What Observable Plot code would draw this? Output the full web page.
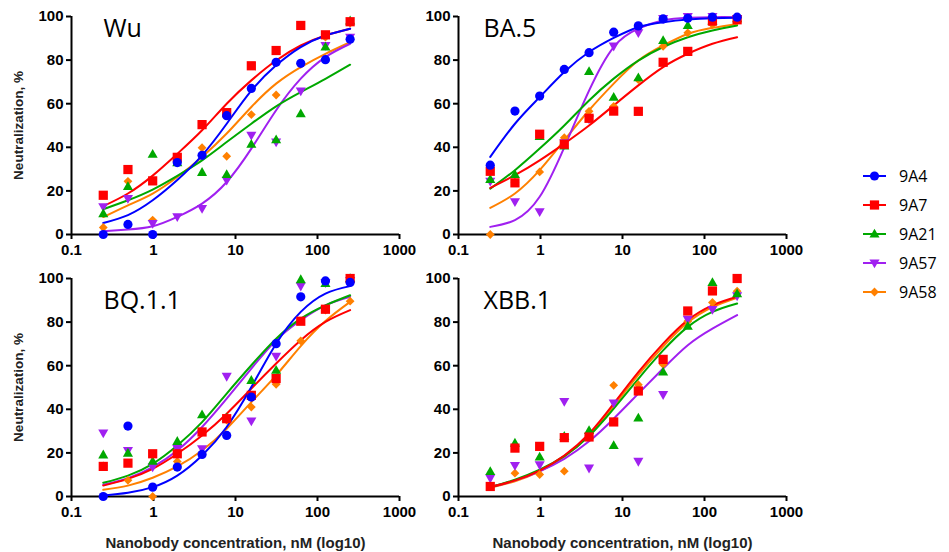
<!DOCTYPE html>
<html>
<head>
<meta charset="utf-8">
<script src="https://cdn.jsdelivr.net/npm/d3@7"></script>
<script src="https://cdn.jsdelivr.net/npm/@observablehq/plot@0.6"></script>
<style>
  body { margin: 0; background: #fff; }
  #chart { position: relative; width: 949px; height: 552px; background: #fff; font-family: "Liberation Sans", Arial, sans-serif; }
  .panel { position: absolute; }
  .panel g[aria-label="y-axis label"] { font-size: 13.5px; fill: #222; }
  .panel g[aria-label="x-axis label"] { font-size: 15px; fill: #222; }
  #legend { position: absolute; left: 855px; top: 160px; }
</style>
</head>
<body>
<div id="chart"></div>
<script>
// ---------- data ----------
const series = ["9A4", "9A7", "9A21", "9A57", "9A58"];
const colors = ["#0000ff", "#ff0000", "#00a800", "#a020f0", "#ff8000"];
const conc = [0.244, 0.488, 0.977, 1.95, 3.91, 7.81, 15.6, 31.3, 62.5, 125, 250];
const xTicks = [0.1, 1, 10, 100, 1000];
const xTickLabels = ["0.1", "1", "10", "100", "1000"];
const yTicks = [0, 20, 40, 60, 80, 100];
const panelNames = ["Wu", "BA.5", "BQ.1.1", "XBB.1"];

// measured points (rows follow `series`)
const wuPts = [
  [0, 4.6, 0, 33, 36.3, 54.5, 67, 79, 78.5, 80.2, 89.6],
  [18, 29.8, 24.6, 35.4, 50.4, 55.9, 77.4, 84.4, 95.9, 91.6, 97.6],
  [9.6, 22, 36.8, 33, 28.5, 27.5, 41.4, 43.5, 55.4, 86, 98],
  [12.7, 16.5, 5, 8.1, 11.9, 24.9, 45.5, 42.4, 65.8, 86.7, 90.5],
  [3.2, 24.4, 6.6, 33, 39.8, 35.9, 55, 64, 78, 90.5, 97]
];
const ba5Pts = [
  [31.8, 56.6, 63.5, 75.7, 83.4, 92.8, 95.7, 98.9, 99.2, 99.7, 99.7],
  [29, 23.7, 46, 41.4, 53.3, 56.6, 56.5, 79, 84, 97.9, 98.5],
  [25.3, 27.5, 45, 40.6, 74.8, 63, 71.9, 89, 95.9, 98, 99],
  [24.4, 15, 10.4, 42, 53, 86.4, 92.5, 99, 100, 100, 99],
  [0, 24, 28.7, 44.4, 56.5, 58.8, 71, 86.3, 92.5, 96.3, 98]
];
const bq11Pts = [
  [0, 32.3, 4.3, 13.5, 19.3, 28, 45.6, 70.1, 91.6, 98.9, 98.2],
  [13.8, 15.3, 19.6, 19.6, 29.6, 35.7, 46.4, 54.1, 80.4, 85.9, 100],
  [19.1, 19.9, 16.2, 25.3, 37.5, 36, 53.3, 57.9, 99.5, 97.7, 100],
  [29.1, 21.1, 13.5, 22, 21.9, 55.1, 34.6, 64.3, 96.5, 98, 99],
  [14, 7.4, 0, 16.1, 20, 35, 41, 51.5, 71.4, 85.5, 89.6]
];
const xbb1Pts = [
  null,
  [4.6, 22.2, 23, 27, 27.3, 34.2, 48.4, 62.9, 85.1, 94.3, 100],
  [11.5, 24.5, 18.1, 27.6, 30.3, 23.4, 36, 57.1, 78.1, 98.2, 93],
  [8.4, 14.2, 14.5, 43.6, 13, 42.9, 16.1, 46.7, 81.3, 85.8, 92],
  [5, 10.7, 10.1, 11.6, 28, 51, 51.3, 60.6, 80.4, 89, 94.2]
];

// fitted curves at each concentration
const wuFit = [
  [5.3, 8.9, 15.7, 25, 36.3, 50.8, 66, 77.6, 86, 91.3, 94.4],
  [13, 18.8, 27, 37, 47.8, 60, 70.7, 79.8, 86.7, 91.3, 94.4],
  [11.6, 15.7, 20.6, 26.9, 34, 42.4, 50.8, 58.8, 65.3, 71.4, 77.9],
  [1.5, 2.3, 3.8, 8.1, 14.2, 24.1, 39.4, 57, 71.5, 81.4, 87.5],
  [8, 13.4, 18.8, 26.4, 35.6, 46.3, 58.5, 69.2, 76.8, 82.9, 88.2]
];
const ba5Fit = [
  [35.6, 50.8, 63, 74.5, 83.7, 90.2, 95.1, 97.4, 98.6, 99.2, 99.4],
  [21.4, 27.2, 34, 41.7, 50, 59.2, 68.4, 76.8, 82.9, 87.5, 90.5],
  [21, 29.5, 39.4, 50, 61.5, 71.5, 79.8, 86, 90.5, 93.6, 95.9],
  [3.5, 6.6, 17.3, 40, 66, 86, 94.4, 98.2, 99.4, 99.7, 99.7],
  [12.2, 18.8, 29.5, 43.2, 57, 69.2, 79.8, 86.7, 92, 94.8, 96.6]
];
const bq11Fit = [
  [0.5, 1.7, 4.3, 9.6, 18.8, 31.9, 50.2, 70.1, 84.7, 93.1, 96.5],
  [5, 8.1, 12.7, 19.6, 28, 38, 49.5, 61, 71.7, 80.1, 85.5],
  [6.3, 9.6, 15, 23.4, 34.1, 47.2, 60.2, 72.4, 81.6, 87.7, 92.3],
  [5.4, 8.4, 13.5, 21.1, 31.9, 44.9, 58.7, 71.7, 80.9, 87.7, 91.6],
  [3.1, 5, 8.6, 13.8, 21.1, 31.1, 43.3, 55.6, 69, 80.5, 89.3]
];
const xbb1Fit = [
  null,
  [4.3, 7.4, 11.9, 18.8, 28.8, 42.6, 57.1, 70.1, 80.9, 87.7, 91.6],
  [4.3, 7.7, 12.3, 18.5, 27.7, 40.3, 54, 67, 77.8, 84.7, 88.5],
  [4.3, 7.4, 11.6, 17.3, 25.3, 35.7, 47.2, 58.7, 69.4, 77, 83.2],
  [4, 7, 11.5, 18.3, 28.2, 41.5, 55.8, 68.8, 79.8, 86.9, 91.2]
];

// ---------- symbols ----------
const triUp = { draw(ctx, size) { const s = Math.sqrt(size / Math.PI);
  ctx.moveTo(0, -1.25 * s); ctx.lineTo(1.2 * s, 0.85 * s); ctx.lineTo(-1.2 * s, 0.85 * s); ctx.closePath(); } };
const triDown = { draw(ctx, size) { const s = Math.sqrt(size / Math.PI);
  ctx.moveTo(0, 1.25 * s); ctx.lineTo(1.2 * s, -0.85 * s); ctx.lineTo(-1.2 * s, -0.85 * s); ctx.closePath(); } };
const diamond = { draw(ctx, size) { const s = Math.sqrt(size / Math.PI);
  ctx.moveTo(0, -s); ctx.lineTo(s, 0); ctx.lineTo(0, s); ctx.lineTo(-s, 0); ctx.closePath(); } };
const symbols = ["circle", "square", triUp, triDown, diamond];
const radii = [4.6, 5.2, 4.2, 4.2, 4.4];

// ---------- layout ----------
const chart = document.getElementById("chart");
const panels = [
  {name: panelNames[0], pts: wuPts, fit: wuFit, left: 0, top: 0, col: 0, row: 0, dx: 32, dy: 3},
  {name: panelNames[1], pts: ba5Pts, fit: ba5Fit, left: 387, top: 0, col: 1, row: 0, dx: 25, dy: 3},
  {name: panelNames[2], pts: bq11Pts, fit: bq11Fit, left: 0, top: 262, col: 0, row: 1, dx: 32, dy: 13},
  {name: panelNames[3], pts: xbb1Pts, fit: xbb1Fit, left: 387, top: 262, col: 1, row: 1, dx: 25, dy: 13}
];
const order = [4, 3, 2, 1, 0];

for (const p of panels) {
  const ptsData = [], fitData = [];
  series.forEach((s, i) => {
    if (p.pts[i]) p.pts[i].forEach((v, j) => { if (v != null) ptsData.push({s, conc: conc[j], v}); });
    if (p.fit[i]) p.fit[i].forEach((v, j) => { if (v != null) fitData.push({s, conc: conc[j], v}); });
  });
  const bottom = p.row === 1;
  const marks = [
    Plot.ruleY([0], {strokeWidth: 2}),
    Plot.ruleX([0.1], {strokeWidth: 2}),
    Plot.axisX({
      ticks: xTicks, tickFormat: d => xTickLabels[xTicks.indexOf(d)],
      tickSize: 5, tickPadding: 5, fontSize: 15, fontWeight: "bold", strokeWidth: 2,
      label: bottom ? "Nanobody concentration, nM (log10)" : null,
      labelAnchor: "center", labelOffset: 51, labelArrow: "none"
    }),
    Plot.axisY({
      ticks: yTicks, tickSize: 5, tickPadding: 3, fontSize: 15, fontWeight: "bold", strokeWidth: 2,
      label: p.col === 0 ? "Neutralization, %" : null,
      labelAnchor: "center", labelOffset: 58, labelArrow: "none"
    }),
    ...order.map(i => Plot.line(fitData.filter(d => d.s === series[i]),
      {x: "conc", y: "v", stroke: colors[i], strokeWidth: 2, curve: "natural"})),
    ...order.map(i => Plot.dot(ptsData.filter(d => d.s === series[i]),
      {x: "conc", y: "v", symbol: symbols[i], r: radii[i], fill: colors[i], stroke: "none"})),
    Plot.text([p.name], {frameAnchor: "top-left", textAnchor: "start", lineAnchor: "top",
      dx: p.dx, dy: p.dy, fontSize: 25, fontFamily: "Open Sans", fill: "#000"})
  ];
  const height = bottom ? 290 : 262;
  const svg = Plot.plot({
    width: 419, height,
    marginLeft: 71, marginRight: 20, marginTop: 16, marginBottom: height - 16 - 218,
    style: {background: "transparent", fontFamily: "Liberation Sans, Arial, sans-serif", color: "#000", overflow: "visible"},
    x: {type: "log", domain: [0.1, 1000]},
    y: {domain: [0, 100]},
    marks
  });
  svg.classList.add("panel");
  svg.style.left = p.left + "px";
  svg.style.top = p.top + "px";
  chart.appendChild(svg);
}

// ---------- legend ----------
const leg = d3.select(chart).append("svg").attr("id", "legend").attr("width", 94).attr("height", 150);
series.forEach((s, i) => {
  const y = 16 + i * 29;
  const g = leg.append("g").attr("transform", `translate(0,${y})`);
  g.append("line").attr("x1", 8).attr("x2", 31).attr("stroke", colors[i]).attr("stroke-width", 2);
  const sym = typeof symbols[i] === "string" ? (symbols[i] === "circle" ? d3.symbolCircle : d3.symbolSquare) : symbols[i];
  g.append("path").attr("transform", "translate(19.5,0)")
    .attr("d", d3.symbol(sym, radii[i] * radii[i] * Math.PI)()).attr("fill", colors[i]);
  g.append("text").attr("x", 44).attr("dy", "0.35em").attr("font-family", "Open Sans, sans-serif")
    .attr("font-size", 16).text(s);
});
</script>
</body>
</html>
